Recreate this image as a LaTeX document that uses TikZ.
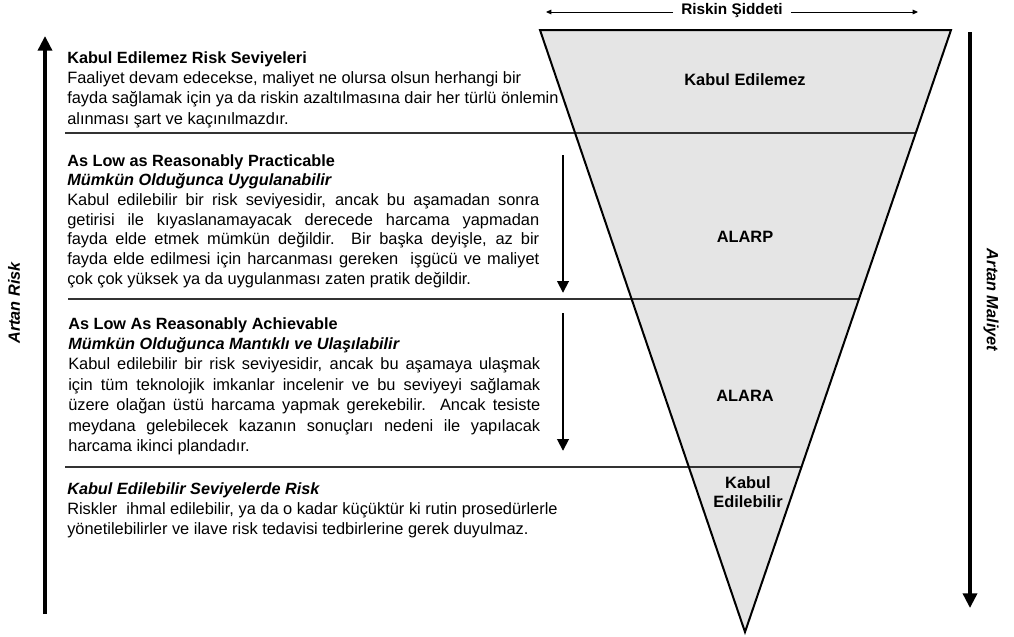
\documentclass[tikz,border=0pt]{standalone}
\usepackage{fontspec}
\setmainfont{Liberation Sans}
\usetikzlibrary{arrows.meta,calc}

% width of the justified body lines
\newlength{\jwidth}
\setlength{\jwidth}{354pt}
\newcommand{\jline}[1]{\makebox[\jwidth][s]{#1}}
\newcommand{\btitle}[1]{{\fontsize{12.2}{15.3}\selectfont\bfseries #1}}

\begin{document}
\begin{tikzpicture}[x=0.75pt,y=-0.75pt,
  funnel/.style={fill=black!10},
  funneledge/.style={draw=black,line width=1.5pt,line join=miter},
  sepline/.style={draw=black!80,line width=0.9pt},
  bigarrow/.style={line width=2.6pt,-{Triangle[length=11pt,width=10.5pt]}},
  midarrow/.style={line width=2.2pt,-{Triangle[length=9pt,width=8.5pt]}},
  thinarrow/.style={line width=0.7pt,-{Triangle[length=4pt,width=3.5pt]}},
  zonelabel/.style={font=\fontsize{12.3}{14.5}\selectfont\bfseries,align=center,inner sep=0pt},
  block/.style={anchor=north west,inner sep=0pt,align=left,
    font=\fontsize{12.3}{15.3}\selectfont},
  axislabel/.style={font=\fontsize{12.2}{14}\selectfont\bfseries\itshape,inner sep=0pt}]
\useasboundingbox (0,0) rectangle (1014,636);

% inverted triangle of risk levels
\coordinate (tl) at (540,30);
\coordinate (tr) at (951,30);
\coordinate (ap) at (745,632);
\fill[funnel] (tl) -- (tr) -- (ap) -- cycle;

% separators between the levels
\coordinate (s1l) at (65,133);
\coordinate (s2l) at (68,299);
\coordinate (s3l) at (65,467);
\coordinate (s1r) at ($(tr)!0.171!(ap)$);
\coordinate (s2r) at ($(tr)!0.447!(ap)$);
\coordinate (s3r) at ($(tr)!0.726!(ap)$);
\draw[sepline] (s1l) -- (s1l -| s1r);
\draw[sepline] (s2l) -- (s2l -| s2r);
\draw[sepline] (s3l) -- (s3l -| s3r);

\draw[funneledge] (tl) -- (tr) -- (ap) -- cycle;

% level names inside the triangle
\node[zonelabel] (z1) at (745,80) {Kabul Edilemez};
\node[zonelabel] (z2) at (745,237) {ALARP};
\node[zonelabel] (z3) at (745,396) {ALARA};
\node[zonelabel] (z4) at (748,492) {Kabul\\Edilebilir};

% severity axis on top
\node[font=\fontsize{11.5}{13}\selectfont\bfseries,inner sep=0pt] (sev) at (732,11) {Riskin Şiddeti};
\coordinate (sevl) at (546,12);
\coordinate (sevr) at (918,12);
\draw[thinarrow] ([xshift=-6pt]sev.west |- sevl) -- (sevl);
\draw[thinarrow] ([xshift=6pt]sev.east |- sevr) -- (sevr);

% risk axis on the left
\coordinate (rb) at (45,614);
\coordinate (rt) at (45,36);
\draw[bigarrow] (rb) -- (rt);
\node[axislabel,rotate=90] (risk) at (14,303) {Artan Risk};

% cost axis on the right
\coordinate (ct) at (970,32);
\coordinate (cb) at (970,608);
\draw[bigarrow] (ct) -- (cb);
\node[axislabel,rotate=-90] (cost) at (991,300) {Artan Maliyet};

% arrows beside the ALARP and ALARA descriptions
\coordinate (a1t) at (563,155);
\coordinate (a1b) at (563,293);
\coordinate (a2t) at (563,313);
\coordinate (a2b) at (563,451);
\draw[midarrow] (a1t) -- (a1b);
\draw[midarrow] (a2t) -- (a2b);

% descriptions of the levels
\node[block] (b1) at (67,51) {%
  \btitle{Kabul Edilemez Risk Seviyeleri}\\
  Faaliyet devam edecekse, maliyet ne olursa olsun herhangi bir\\
  fayda sağlamak için ya da riskin azaltılmasına dair her türlü önlemin\\
  alınması şart ve kaçınılmazdır.};

\node[block,font=\fontsize{12.3}{14.8}\selectfont] (b2) at (67,154) {%
  \btitle{As Low as Reasonably Practicable}\\
  \btitle{\itshape Mümkün Olduğunca Uygulanabilir}\\
  \jline{Kabul edilebilir bir risk seviyesidir, ancak bu aşamadan sonra}\\
  \jline{getirisi ile kıyaslanamayacak derecede harcama yapmadan}\\
  \jline{fayda elde etmek mümkün değildir. Bir başka deyişle, az bir}\\
  \jline{fayda elde edilmesi için harcanması gereken \ işgücü ve maliyet}\\
  çok çok yüksek ya da uygulanması zaten pratik değildir.};

\node[block] (b3) at (68,317) {%
  \btitle{As Low As Reasonably Achievable}\\
  \btitle{\itshape Mümkün Olduğunca Mantıklı ve Ulaşılabilir}\\
  \jline{Kabul edilebilir bir risk seviyesidir, ancak bu aşamaya ulaşmak}\\
  \jline{için tüm teknolojik imkanlar incelenir ve bu seviyeyi sağlamak}\\
  \jline{üzere olağan üstü harcama yapmak gerekebilir. Ancak tesiste}\\
  \jline{meydana gelebilecek kazanın sonuçları nedeni ile yapılacak}\\
  harcama ikinci plandadır.};

\node[block] (b4) at (67,482) {%
  \btitle{\itshape Kabul Edilebilir Seviyelerde Risk}\\
  Riskler \ ihmal edilebilir, ya da o kadar küçüktür ki rutin prosedürlerle\\
  yönetilebilirler ve ilave risk tedavisi tedbirlerine gerek duyulmaz.};
\end{tikzpicture}
\end{document}
